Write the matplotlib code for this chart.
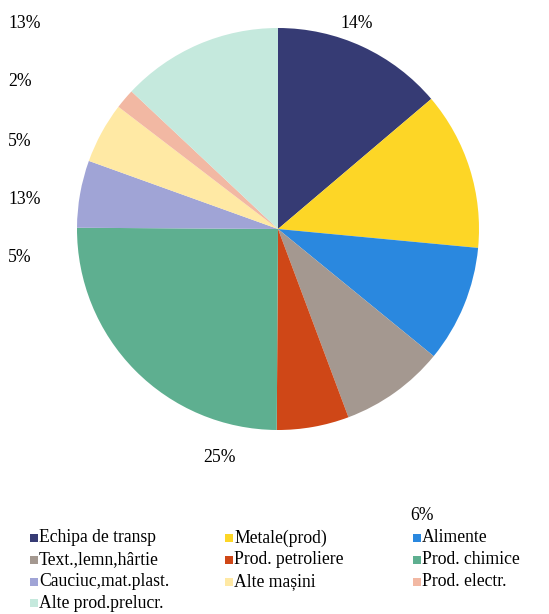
import matplotlib.pyplot as plt
from matplotlib.patches import Rectangle

plt.rcParams['font.family'] = ['Liberation Serif', 'DejaVu Serif']

categories = ['Echipa de transp', 'Metale(prod)', 'Alimente',
              'Text.,lemn,hârtie', 'Prod. petroliere', 'Prod. chimice',
              'Cauciuc,mat.plast.', 'Alte mașini', 'Prod. electr.',
              'Alte prod.prelucr.']
shares = [13.8, 12.7, 9.4, 8.4, 5.8, 25.0, 5.4, 4.9, 1.6, 13.0]
colors = ['#363B74', '#FDD626', '#2A88DF', '#A49890', '#CF4717',
          '#5EAF90', '#A0A4D6', '#FFE9A4', '#F2B8A3', '#C5E9DD']

# percentage labels that are shown, and where they sit (pixels from top-left)
label_spots = {
    0: (340, 24),
    9: (8, 24),
    8: (8, 82),
    7: (8, 141),
    1: (8, 200),
    6: (8, 258),
    5: (203, 458),
    4: (410, 516),
}

W, H = 549, 614
fig = plt.figure(figsize=(W / 100, H / 100), dpi=100)

cx, cy, r = 278, 229, 201
ax = fig.add_axes([(cx - r) / W, (H - cy - r) / H, 2 * r / W, 2 * r / H])
ax.pie(shares, colors=colors, startangle=90, counterclock=False,
       wedgeprops=dict(linewidth=0))
ax.set_xlim(-1, 1)
ax.set_ylim(-1, 1)
ax.set_aspect('auto')

for i, (px, py) in label_spots.items():
    fig.text(px / W, 1 - py / H, f'{shares[i]:.0f}%', fontsize=12.7,
             ha='left', va='center')

# legend drawn by hand: three columns, filled row by row
col_x = [30, 225, 413]
row_y = [538, 560, 582, 603]
box = 8
for k, (name, col) in enumerate(zip(categories, colors)):
    x0 = col_x[k % 3]
    y0 = row_y[k // 3]
    fig.patches.append(Rectangle((x0 / W, 1 - (y0 + box / 2) / H), box / W, box / H,
                                 transform=fig.transFigure, facecolor=col,
                                 edgecolor='none'))
    fig.text((x0 + box + 1) / W, 1 - y0 / H, name, fontsize=12.7,
             ha='left', va='center')

fig.savefig('out.png', dpi=100)
